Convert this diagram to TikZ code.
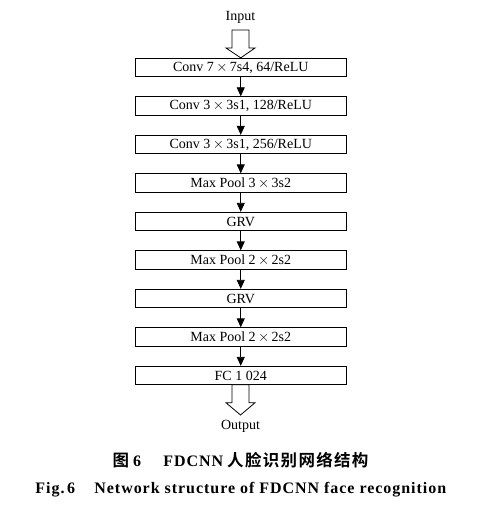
\documentclass[tikz,border=0pt]{standalone}
\usepackage{fontspec}
\setmainfont{Liberation Serif}
\newfontfamily\cjk[LetterSpace=8]{Noto Sans CJK SC Bold}
\newfontfamily\figfont[LetterSpace=6]{Liberation Serif Bold}
\usetikzlibrary{arrows.meta}
\begin{document}
\begin{tikzpicture}[x=1pt,y=-1pt,
  box/.style={draw, line width=0.8pt, minimum width=211pt, minimum height=18.5pt, inner sep=0pt, font=\fontsize{14}{15}\selectfont},
  link/.style={-{Triangle[length=9pt,width=8pt]}, line width=0.8pt},
  hollow/.style={draw, line width=0.8pt, fill=white, line join=miter},
  lbl/.style={font=\fontsize{14}{15}\selectfont, inner sep=0pt}]
\useasboundingbox (0,0) rectangle (485,513);
\fill[white] (0,0) rectangle (485,513);
\node[lbl] (in) at (240.5,17) {Input};
\node[box] (b1) at (240.75,67.5)  {Conv 7$\,\times\,$7s4, 64/ReLU};
\node[box] (b2) at (240.75,106)   {Conv 3$\,\times\,$3s1, 128/ReLU};
\node[box] (b3) at (240.75,144.5) {Conv 3$\,\times\,$3s1, 256/ReLU};
\node[box] (b4) at (240.75,183)   {Max Pool 3$\,\times\,$3s2};
\node[box] (b5) at (240.75,221.5) {GRV};
\node[box] (b6) at (240.75,260)   {Max Pool 2$\,\times\,$2s2};
\node[box] (b7) at (240.75,298.5) {GRV};
\node[box] (b8) at (240.75,337)   {Max Pool 2$\,\times\,$2s2};
\node[box] (b9) at (240.75,375.5) {FC 1 024};
\node[lbl] (out) at (240.5,426) {Output};
\foreach \a/\b in {b1/b2,b2/b3,b3/b4,b4/b5,b5/b6,b6/b7,b7/b8,b8/b9}
  \draw[link] (\a.south) -- (\b.north);
% hollow input arrow
\coordinate (itop) at (240.5,30);
\draw[hollow] ([xshift=-8.5pt]itop) -- ([xshift=8.5pt]itop) -- ([xshift=8.5pt,yshift=-18pt]itop)
  -- ([xshift=14.5pt,yshift=-18pt]itop) -- (b1.north) -- ([xshift=-14.5pt,yshift=-18pt]itop)
  -- ([xshift=-8.5pt,yshift=-18pt]itop) -- cycle;
% hollow output arrow
\coordinate (otop) at (240.5,384.75);
\coordinate (otip) at (240.5,415);
\draw[hollow] ([xshift=-8.5pt]otop) -- ([xshift=8.5pt]otop) -- ([xshift=8.5pt,yshift=-18pt]otop)
  -- ([xshift=14.5pt,yshift=-18pt]otop) -- (otip) -- ([xshift=-14.5pt,yshift=-18pt]otop)
  -- ([xshift=-8.5pt,yshift=-18pt]otop) -- cycle;
\node[anchor=base, inner sep=0pt, font=\fontsize{16}{18}\selectfont] (cap1) at (240.5,466.7)
  {{\cjk\fontsize{16.5}{18}\selectfont 图}\ {\figfont 6}\hspace{1.4em}{\figfont FDCNN}\ {\cjk\fontsize{16.5}{18}\selectfont 人脸识别网络结构}};
\node[anchor=base, inner sep=0pt, font=\fontsize{16}{18}\selectfont] (cap2) at (240.8,493.3)
  {\figfont Fig.\,6\hspace{1.2em}Network structure of FDCNN face recognition};
\end{tikzpicture}
\end{document}
